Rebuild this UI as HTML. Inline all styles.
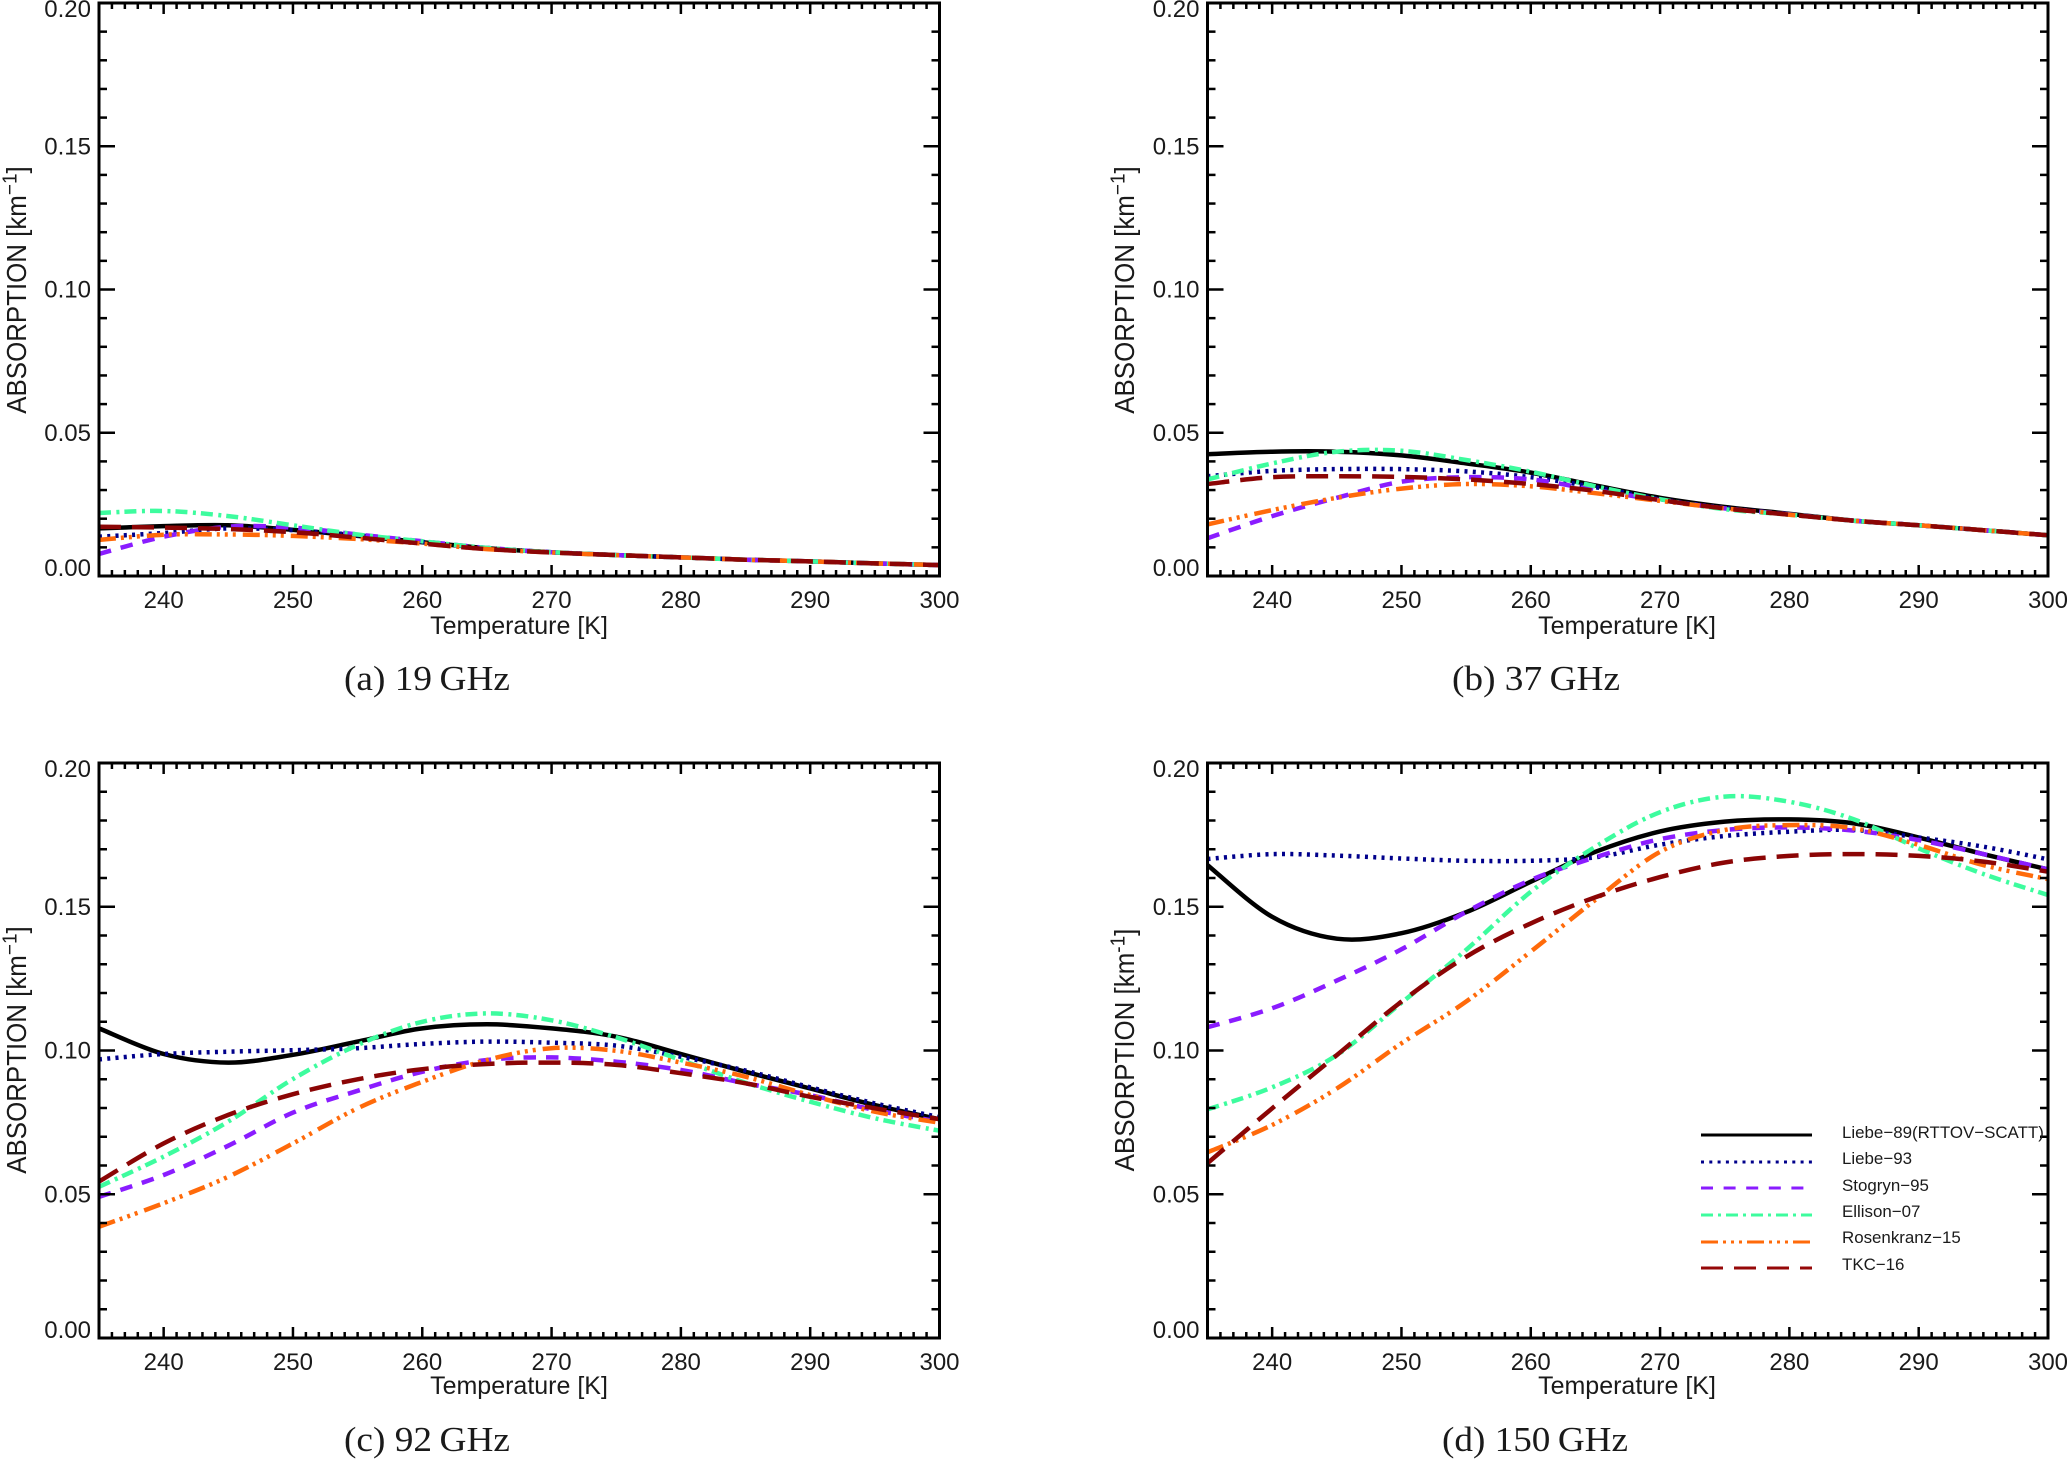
<!DOCTYPE html>
<html>
<head>
<meta charset="utf-8">
<title>Absorption vs Temperature</title>
<style>
html,body{margin:0;padding:0;background:#fff;width:2067px;height:1459px;overflow:hidden}
svg{display:block}
text{font-family:"Liberation Sans",sans-serif;fill:#1a1a1a}
.cap{font-family:"Liberation Serif",serif;font-size:35px;text-anchor:middle}
.tick{font-size:24px}
.axt{font-size:25px;text-anchor:middle}
.ayt{font-size:25.9px;text-anchor:middle}
.leg{font-size:16.9px}
</style>
</head>
<body>
<svg id="fig" xmlns="http://www.w3.org/2000/svg" width="2067" height="1459" viewBox="0 0 2067 1459">
  <rect x="0" y="0" width="2067" height="1459" fill="#fff"/>

  <g id="panel-a">
    <text class="axt" x="519" y="634">Temperature [K]</text>
    <text class="ayt" transform="translate(26,290) rotate(-90) scale(1,1.08)">ABSORPTION [km<tspan dy="-9" font-size="19">−1</tspan><tspan dy="9">]</tspan></text>
    <text class="cap" x="427" y="690" textLength="166" lengthAdjust="spacingAndGlyphs">(a) 19&#8201;GHz</text>
  </g>
  <g id="panel-b">
    <text class="axt" x="1627" y="634">Temperature [K]</text>
    <text class="ayt" transform="translate(1134,290) rotate(-90) scale(1,1.08)">ABSORPTION [km<tspan dy="-9" font-size="19">−1</tspan><tspan dy="9">]</tspan></text>
    <text class="cap" x="1536" y="690" textLength="168" lengthAdjust="spacingAndGlyphs">(b) 37&#8201;GHz</text>
  </g>
  <g id="panel-c">
    <text class="axt" x="519" y="1394">Temperature [K]</text>
    <text class="ayt" transform="translate(26,1050) rotate(-90) scale(1,1.08)">ABSORPTION [km<tspan dy="-9" font-size="19">−1</tspan><tspan dy="9">]</tspan></text>
    <text class="cap" x="427" y="1451" textLength="166" lengthAdjust="spacingAndGlyphs">(c) 92&#8201;GHz</text>
  </g>
  <g id="panel-d">
    <text class="axt" x="1627" y="1394">Temperature [K]</text>
    <text class="ayt" transform="translate(1134,1050) rotate(-90) scale(1,1.08)">ABSORPTION [km<tspan dy="-9" font-size="19">-1</tspan><tspan dy="9">]</tspan></text>
    <text class="cap" x="1535" y="1451" textLength="186" lengthAdjust="spacingAndGlyphs">(d) 150&#8201;GHz</text>
  </g>

  <g id="legend" fill="none">
    <g>
      <line x1="1701" x2="1812" y1="1135" y2="1135" stroke="#000" stroke-width="3"/>
      <text class="leg" x="1842" y="1138">Liebe−89(RTTOV−SCATT)</text>
    </g>
    <g>
      <line x1="1701" x2="1812" y1="1162" y2="1162" stroke="#00008b" stroke-width="3" stroke-dasharray="3 5.3"/>
      <text class="leg" x="1842" y="1164">Liebe−93</text>
    </g>
    <g>
      <line x1="1701" x2="1812" y1="1188" y2="1188" stroke="#8a1cff" stroke-width="3" stroke-dasharray="12 10.6"/>
      <text class="leg" x="1842" y="1191">Stogryn−95</text>
    </g>
    <g>
      <line x1="1701" x2="1812" y1="1215" y2="1215" stroke="#3dfc9e" stroke-width="3" stroke-dasharray="12 5 3 5"/>
      <text class="leg" x="1842" y="1217">Ellison−07</text>
    </g>
    <g>
      <line x1="1701" x2="1812" y1="1242" y2="1242" stroke="#ff6a0a" stroke-width="3" stroke-dasharray="17 5 3 5 3 5 3 5"/>
      <text class="leg" x="1842" y="1243">Rosenkranz−15</text>
    </g>
    <g>
      <line x1="1701" x2="1812" y1="1268" y2="1268" stroke="#960808" stroke-width="3" stroke-dasharray="22 11"/>
      <text class="leg" x="1842" y="1270">TKC−16</text>
    </g>
  </g>
</svg>

<script>
// ---- shared axis data ----
const temperatures = [235, 240, 245, 250, 255, 260, 265, 270, 275, 280, 285, 290, 295, 300];
const xTickLabels = [240, 250, 260, 270, 280, 290, 300];
const yTickLabels = ['0.00', '0.05', '0.10', '0.15', '0.20'];
const seriesNames = ['liebe-89', 'liebe-93', 'stogryn-95', 'ellison-07', 'rosenkranz-15', 'tkc-16'];

// ---- 19 GHz ----
const liebe89At19 = [.0166, .0174, .0177, .0161, .0140, .0118, .0097, .0083, .0073, .0065, .0057, .0051, .0044, .0038];
const liebe93At19 = [.0137, .0150, .0166, .0160, .0142, .0119, .0098, .0083, .0073, .0065, .0057, .0051, .0044, .0038];
const stogryn95At19 = [.0077, .0137, .0172, .0169, .0145, .0121, .0098, .0083, .0073, .0065, .0057, .0051, .0044, .0038];
const ellison07At19 = [.0220, .0227, .0209, .0177, .0145, .0121, .0098, .0083, .0073, .0065, .0057, .0051, .0044, .0038];
const rosenkranz15At19 = [.0126, .0144, .0145, .0140, .0129, .0113, .0094, .0082, .0073, .0065, .0057, .0051, .0044, .0038];
const tkc16At19 = [.0172, .0169, .0164, .0153, .0134, .0113, .0094, .0082, .0073, .0065, .0057, .0051, .0044, .0038];

// ---- 37 GHz ----
const liebe89At37 = [.0425, .0434, .0434, .0421, .0393, .0361, .0316, .0273, .0241, .0217, .0193, .0177, .0160, .0142];
const liebe93At37 = [.0348, .0367, .0373, .0373, .0365, .0345, .0310, .0268, .0238, .0215, .0193, .0177, .0160, .0142];
const stogryn95At37 = [.0132, .0209, .0273, .0329, .0345, .0337, .0300, .0265, .0236, .0215, .0193, .0177, .0160, .0142];
const ellison07At37 = [.0337, .0393, .0434, .0437, .0405, .0364, .0313, .0268, .0233, .0214, .0193, .0177, .0160, .0142];
const rosenkranz15At37 = [.0180, .0230, .0273, .0305, .0321, .0313, .0289, .0262, .0236, .0214, .0193, .0177, .0160, .0142];
const tkc16At37 = [.0321, .0345, .0348, .0346, .0337, .0321, .0297, .0265, .0236, .0214, .0193, .0177, .0160, .0142];

// ---- 92 GHz ----
const liebe89At92 = [.1077, .0988, .0958, .0985, .1031, .1077, .1091, .1077, .1048, .0988, .0926, .0868, .0810, .0761];
const liebe93At92 = [.0969, .0988, .0996, .1001, .1008, .1023, .1031, .1027, .1017, .0978, .0930, .0872, .0816, .0768];
const stogryn95At92 = [.0491, .0567, .0669, .0784, .0860, .0926, .0967, .0976, .0961, .0932, .0886, .0845, .0793, .0752];
const ellison07At92 = [.0526, .0631, .0753, .0901, .1019, .1100, .1129, .1105, .1046, .0967, .0888, .0822, .0764, .0721];
const rosenkranz15At92 = [.0387, .0469, .0561, .0677, .0799, .0891, .0967, .1008, .0999, .0958, .0909, .0845, .0787, .0749];
const tkc16At92 = [.0544, .0677, .0776, .0848, .0900, .0935, .0953, .0958, .0950, .0921, .0886, .0839, .0799, .0761];

// ---- 150 GHz ----
const liebe89At150 = [.1645, .1465, .1389, .1408, .1481, .1587, .1691, .1762, .1796, .1804, .1790, .1741, .1683, .1630];
const liebe93At150 = [.1666, .1683, .1678, .1668, .1660, .1660, .1672, .1716, .1746, .1761, .1767, .1741, .1709, .1665];
const stogryn95At150 = [.1081, .1147, .1243, .1352, .1482, .1593, .1672, .1735, .1767, .1776, .1765, .1732, .1683, .1630];
const ellison07At150 = [.0795, .0872, .0984, .1166, .1350, .1552, .1709, .1829, .1883, .1865, .1804, .1703, .1614, .1541];
const rosenkranz15At150 = [.0646, .0741, .0868, .1025, .1170, .1344, .1524, .1691, .1767, .1784, .1773, .1715, .1645, .1596];
const tkc16At150 = [.0608, .0799, .0984, .1170, .1326, .1442, .1533, .1603, .1654, .1677, .1683, .1677, .1657, .1622];

const NS = 'http://www.w3.org/2000/svg';
const seriesColors = ['#000000', '#00008b', '#8a1cff', '#3dfc9e', '#ff6a0a', '#8b0505'];
const seriesDashes = ['none', '3 5.3', '12.5 10', '12 5.5 3 5', '17 5 3 5 3 5 3 7', '22 11'];

function axisX(box, t) { return box.left + (t - 235) / 65 * (box.right - box.left); }
function axisY(box, v) { return box.bottom - v / 0.2 * (box.bottom - box.top); }

function curvePath(pts) {
  let d = 'M' + pts[0][0].toFixed(1) + ' ' + pts[0][1].toFixed(1);
  for (let i = 0; i < pts.length - 1; i++) {
    const p0 = pts[Math.max(i - 1, 0)], p1 = pts[i], p2 = pts[i + 1], p3 = pts[Math.min(i + 2, pts.length - 1)];
    const c1x = p1[0] + (p2[0] - p0[0]) / 6, c1y = p1[1] + (p2[1] - p0[1]) / 6;
    const c2x = p2[0] - (p3[0] - p1[0]) / 6, c2y = p2[1] - (p3[1] - p1[1]) / 6;
    d += 'C' + c1x.toFixed(1) + ' ' + c1y.toFixed(1) + ' ' + c2x.toFixed(1) + ' ' + c2y.toFixed(1) + ' ' + p2[0].toFixed(1) + ' ' + p2[1].toFixed(1);
  }
  return d;
}

function tickLine(parent, x1, y1, x2, y2, w) {
  const el = document.createElementNS(NS, 'line');
  
  
  el.setAttribute('x1', x1);
  el.setAttribute('y1', y1);
  el.setAttribute('x2', x2);
  el.setAttribute('y2', y2);
  el.setAttribute('stroke', '#000');
  el.setAttribute('stroke-width', w);
  parent.appendChild(el);
}

function drawPanel(id, box, seriesList) {
  const g = document.getElementById(id);

  seriesList.forEach(function (values, i) {
    const pts = values.map(function (v, k) { return [axisX(box, temperatures[k]), axisY(box, v)]; });
    const path = document.createElementNS(NS, 'path');
    
    
    path.setAttribute('d', curvePath(pts));
    path.setAttribute('fill', 'none');
    path.setAttribute('stroke', seriesColors[i]);
    path.setAttribute('stroke-width', 4.5);
    if (seriesDashes[i] !== 'none') path.setAttribute('stroke-dasharray', seriesDashes[i]);
    g.appendChild(path);
  });

  const frame = document.createElementNS(NS, 'rect');
  
  
  frame.setAttribute('x', box.left);
  frame.setAttribute('y', box.top);
  frame.setAttribute('width', box.right - box.left);
  frame.setAttribute('height', box.bottom - box.top);
  frame.setAttribute('fill', 'none');
  frame.setAttribute('stroke', '#000');
  frame.setAttribute('stroke-width', 3);
  g.appendChild(frame);

  for (let t = 235; t <= 300; t++) {
    const x = axisX(box, t);
    const len = t % 10 === 0 ? 11 : 6;
    tickLine(g, x, box.bottom, x, box.bottom - len, 2.5);
    tickLine(g, x, box.top, x, box.top + len, 2.5);
  }
  for (let n = 0; n <= 20; n++) {
    const y = axisY(box, n / 100);
    const len = n % 5 === 0 ? 16 : 8;
    tickLine(g, box.left, y, box.left + len, y, 2.5);
    tickLine(g, box.right, y, box.right - len, y, 2.5);
  }

  xTickLabels.forEach(function (t) {
    const el = document.createElementNS(NS, 'text');
    
    
    el.setAttribute('class', 'tick');
    el.setAttribute('text-anchor', 'middle');
    el.setAttribute('x', axisX(box, t));
    el.setAttribute('y', box.bottom + 32);
    el.textContent = t;
    g.appendChild(el);
  });
  yTickLabels.forEach(function (label) {
    const v = parseFloat(label);
    const shift = v === 0 ? 0 : (v === 0.2 ? 14 : 8);
    const el = document.createElementNS(NS, 'text');
    
    
    el.setAttribute('class', 'tick');
    el.setAttribute('text-anchor', 'end');
    el.setAttribute('x', box.left - 8);
    el.setAttribute('y', axisY(box, v) + shift);
    el.textContent = label;
    g.appendChild(el);
  });
}

drawPanel('panel-a', {left: 99, right: 939.5, top: 3, bottom: 576},
  [liebe89At19, liebe93At19, stogryn95At19, ellison07At19, rosenkranz15At19, tkc16At19]);
drawPanel('panel-b', {left: 1207.5, right: 2048, top: 3, bottom: 576},
  [liebe89At37, liebe93At37, stogryn95At37, ellison07At37, rosenkranz15At37, tkc16At37]);
drawPanel('panel-c', {left: 99, right: 939.5, top: 763, bottom: 1338},
  [liebe89At92, liebe93At92, stogryn95At92, ellison07At92, rosenkranz15At92, tkc16At92]);
drawPanel('panel-d', {left: 1207.5, right: 2048, top: 763, bottom: 1338},
  [liebe89At150, liebe93At150, stogryn95At150, ellison07At150, rosenkranz15At150, tkc16At150]);
</script>
</body>
</html>
